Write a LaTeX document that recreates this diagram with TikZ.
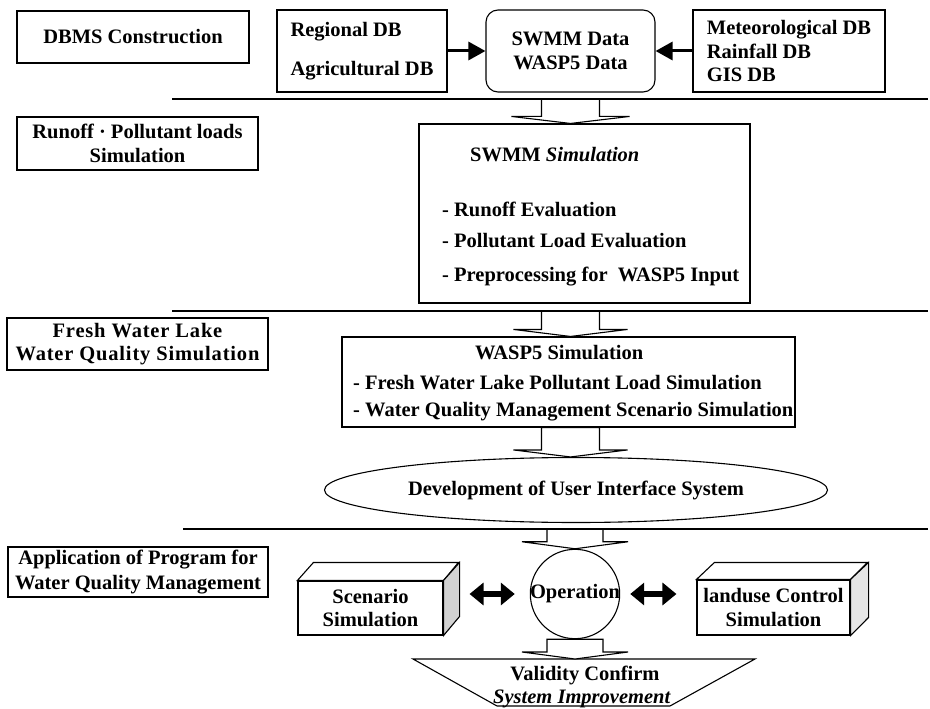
\documentclass[tikz,border=0pt]{standalone}
\usepackage{fontspec}
\setmainfont{Liberation Serif}
\newfontfamily\spacedfont[LetterSpace=4]{Liberation Serif}
\usetikzlibrary{arrows.meta,shapes.geometric,calc}
\newcommand{\hollowarr}[4]{\draw[harrowstyle] let \p1=(#1), \p2=(#2) in
  (\x2-#3,\y1) -- (\x2-#3,\y2+7pt) -- (\x2-#4,\y2+7pt) -- (\x2,\y2) --
  (\x2+#4,\y2+7pt) -- (\x2+#3,\y2+7pt) -- (\x2+#3,\y1) -- cycle;}
\begin{document}
\begin{tikzpicture}[x=1pt,y=-1pt,
  every node/.style={font=\fontsize{20.5}{23.5}\selectfont\bfseries},
  box/.style={draw, line width=1.1pt, inner sep=0pt, align=center},
  sep/.style={line width=1.8pt},
  sarrow/.style={line width=3pt, -{Triangle[length=17pt,width=18pt]}},
  dblarrow/.style={line width=6pt, {Triangle[length=14pt,width=22pt]}-{Triangle[length=14pt,width=22pt]}},
  harrowstyle/.style={draw, line width=1.1pt, fill=white, line join=miter},
  face/.style={draw, line width=1.1pt, line join=miter},
  txt/.style={anchor=base west, inner sep=0pt}]
\useasboundingbox (0,0) rectangle (930,709);

% ---- row 1 ----
\node[box, minimum width=232pt, minimum height=52pt] (dbms) at (133,37) {DBMS Construction};
\node[box, minimum width=170pt, minimum height=82pt, align=left] (reg) at (362,51) {Regional DB\\[16pt]Agricultural DB};
\node[box, rounded corners=12pt, minimum width=169pt, minimum height=82pt] (swmm) at (570.5,51) {SWMM Data\\WASP5 Data};
\node[box, minimum width=192pt, minimum height=82pt, align=left] (met) at (789,51) {Meteorological DB\\Rainfall DB\\GIS DB};
\draw[sarrow] (reg.east) -- (swmm.west);
\draw[sarrow] (met.west) -- (swmm.east);

% ---- separator coordinates ----
\coordinate (l1a) at (172,99);  \coordinate (l1b) at (928,99);
\coordinate (l2a) at (172,311); \coordinate (l2b) at (928,311);
\coordinate (l3a) at (183,529); \coordinate (l3b) at (928,529);

% ---- row 2 ----
\node[box, minimum width=241pt, minimum height=53pt] (runoff) at (137.5,143.5) {Runoff · Pollutant loads\\Simulation};
\node[box, minimum width=331pt, minimum height=179pt] (sim) at (584.5,213.5) {};
\node[txt] (simt) at (470,161) {SWMM \textit{Simulation}};
\node[txt] (sim1) at (442,216) {- Runoff Evaluation};
\node[txt] (sim2) at (442,247) {- Pollutant Load Evaluation};
\node[txt] (sim3) at (442,281) {- Preprocessing for\ \ WASP5 Input};

% ---- row 3 ----
\node[box, minimum width=261pt, minimum height=52pt,
  font={\fontsize{20.5}{23}\selectfont\spacedfont\bfseries}] (fresh) at (137.5,344) {Fresh Water Lake\\Water Quality Simulation};
\node[box, minimum width=453pt, minimum height=90pt] (wasp) at (568.5,382) {};
\node[txt] (waspt) at (475,359) {WASP5 Simulation};
\node[txt] (wasp1) at (353,389) {- Fresh Water Lake Pollutant Load Simulation};
\node[txt] (wasp2) at (353,416) {- Water Quality Management Scenario Simulation};

\node[draw, ellipse, line width=1.1pt, minimum width=503pt, minimum height=65pt, inner sep=0pt] (ui) at (576,490) {Development of User Interface System};

% ---- row 4 ----
\node[box, minimum width=260pt, minimum height=50pt] (app) at (138,572) {Application of Program for\\[1pt]Water Quality Management};
\node[draw, circle, line width=1.1pt, minimum size=86pt, inner sep=-1pt] (op) at (575,594) {Operation};

\node[box, minimum width=145pt, minimum height=54pt] (scen) at (370.5,608) {Scenario\\Simulation};
\draw[face, fill=white] (scen.north west) -- ++(16,-18) -- ++(145,0) -- (scen.north east) -- cycle;
\draw[face, fill=gray!35] (scen.north east) -- ++(16,-18) -- ++(0,54) -- (scen.south east) -- cycle;

\node[box, minimum width=153pt, minimum height=55pt] (land) at (773.5,607.5) {landuse Control\\Simulation};
\draw[face, fill=white] (land.north west) -- ++(18,-17) -- ++(153,0) -- (land.north east) -- cycle;
\draw[face, fill=gray!20] (land.north east) -- ++(18,-17) -- ++(0,55) -- (land.south east) -- cycle;

\draw[dblarrow] ($(scen.east |- op.west)+(26,0)$) -- ($(op.west)+(-15,0)$);
\draw[dblarrow] ($(op.east)+(10,0)$) -- ($(land.west |- op.east)+(-20,0)$);

% trapezoid
\coordinate (tz1) at (413,659); \coordinate (tz2) at (755,659);
\coordinate (tz3) at (670,706); \coordinate (tz4) at (497,706);
\draw[face] (tz1) -- (tz2) -- (tz3) -- (tz4) -- cycle;
\node[anchor=base, inner sep=0pt] (valid) at (585,680) {Validity Confirm};
\node[anchor=base, inner sep=0pt] (sysimp) at (582,703) {\textit{System Improvement}};

% ---- hollow arrows ----
\coordinate (h1t) at (swmm.south |- l1a);
\coordinate (h1b) at (swmm.south |- sim.north);
\hollowarr{h1t}{h1b}{29pt}{59pt}
\coordinate (h2t) at (swmm.south |- l2a);
\coordinate (h2b) at (swmm.south |- wasp.north);
\hollowarr{h2t}{h2b}{29pt}{57pt}
\coordinate (h3t) at (swmm.south |- wasp.south);
\coordinate (h3b) at (swmm.south |- ui.north);
\hollowarr{h3t}{h3b}{29pt}{57pt}
\coordinate (h4t) at (op.north |- l3a);
\hollowarr{h4t}{op.north}{28pt}{53pt}
\coordinate (h5b) at (op.south |- tz1);
\hollowarr{op.south}{h5b}{28pt}{53pt}

% ---- separators ----
\draw[sep] (l1a) -- (l1b);
\draw[sep] (l2a) -- (l2b);
\draw[sep] (l3a) -- (l3b);
\end{tikzpicture}
\end{document}
